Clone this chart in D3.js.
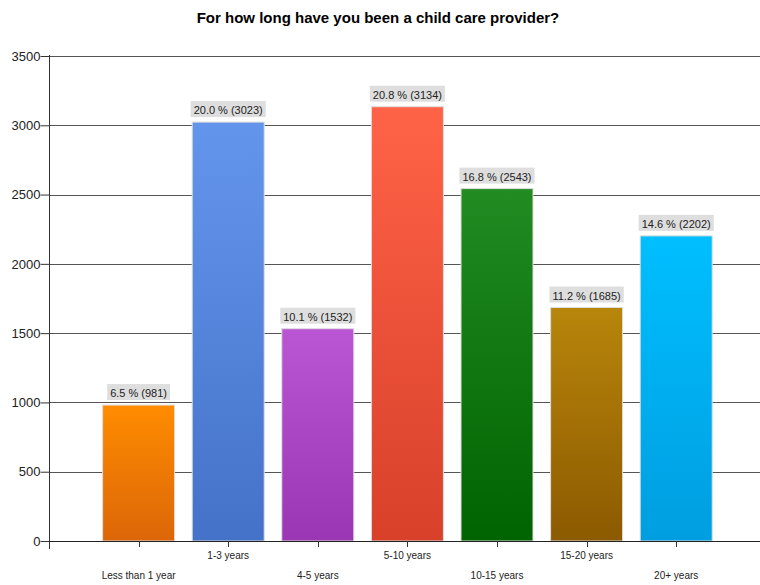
<!DOCTYPE html>
<html>
<head>
<meta charset="utf-8">
<script src="https://cdn.jsdelivr.net/npm/d3@7"></script>
<style>
  body { margin: 0; background: #fff; }
  text { font-family: "Liberation Sans", Arial, sans-serif; }
</style>
</head>
<body>
<svg id="svg" width="760" height="585"></svg>
<script>
const categories = ["Less than 1 year", "1-3 years", "4-5 years", "5-10 years", "10-15 years", "15-20 years", "20+ years"];
const counts = [981, 3023, 1532, 3134, 2543, 1685, 2202];
const percents = [6.5, 20.0, 10.1, 20.8, 16.8, 11.2, 14.6];
const yTicks = [0, 500, 1000, 1500, 2000, 2500, 3000, 3500];
const colorsTop = ["#ff8c00", "#6495ed", "#ba55d3", "#ff6347", "#228b22", "#b8860b", "#00bfff"];
const colorsBottom = ["#dc6608", "#4472c8", "#9a35b4", "#d8402a", "#006400", "#8c5a00", "#009ee0"];

const svg = d3.select("#svg");
const plotLeft = 49, plotTop = 56, plotBottom = 541, step = 89.6;

const x = d3.scaleLinear().domain([0, 8]).range([plotLeft, plotLeft + step * 8]);
const y = d3.scaleLinear().domain([0, 3500]).range([plotBottom, plotTop]);

svg.append("text").attr("x", 378).attr("y", 23).attr("text-anchor", "middle")
  .style("font-size", "15px").style("font-weight", "bold").text("For how long have you been a child care provider?");

// gradients
const defs = svg.append("defs");
categories.forEach((c, i) => {
  const g = defs.append("linearGradient").attr("id", "g" + i).attr("x1", 0).attr("y1", 0).attr("x2", 0).attr("y2", 1);
  g.append("stop").attr("offset", "0%").attr("stop-color", colorsTop[i]);
  g.append("stop").attr("offset", "100%").attr("stop-color", colorsBottom[i]);
});

// grid
svg.append("g").selectAll("line").data(yTicks.filter(d => d > 0)).join("line")
  .attr("x1", plotLeft).attr("x2", 760).attr("y1", d => Math.round(y(d)) + 0.5).attr("y2", d => Math.round(y(d)) + 0.5)
  .attr("stroke", "#555").attr("stroke-width", 1);

// y axis
const ya = svg.append("g").attr("transform", "translate(" + (plotLeft + 0.5) + ",0)")
  .call(d3.axisLeft(y).tickValues(yTicks).tickSize(9).tickSizeOuter(0).tickFormat(d3.format("d")));
ya.select(".domain").attr("stroke", "#333").attr("d", "M0," + (plotTop - 1) + "V" + (plotBottom + 8));
ya.selectAll(".tick line").attr("stroke", "#333");
ya.selectAll(".tick text").style("font-size", "13px").attr("fill", "#222").attr("x", -9);

// bars
const bw = 72;
svg.append("g").selectAll("rect").data(counts).join("rect")
  .attr("x", (d, i) => x(i + 1) - bw / 2).attr("width", bw)
  .attr("y", d => y(d)).attr("height", d => y(0) - y(d))
  .attr("fill", (d, i) => "url(#g" + i + ")")
  .attr("stroke", "#ddd").attr("stroke-width", 1);

// x axis
svg.append("line").attr("x1", plotLeft).attr("x2", 760).attr("y1", plotBottom + 0.5).attr("y2", plotBottom + 0.5).attr("stroke", "#222");
svg.append("g").selectAll("line").data(categories).join("line")
  .attr("x1", (d, i) => Math.round(x(i + 1)) + 0.5).attr("x2", (d, i) => Math.round(x(i + 1)) + 0.5)
  .attr("y1", plotBottom).attr("y2", plotBottom + 6).attr("stroke", "#333");
svg.append("g").selectAll("text").data(categories).join("text")
  .attr("x", (d, i) => x(i + 1)).attr("y", (d, i) => i % 2 ? 559 : 579)
  .attr("text-anchor", "middle").style("font-size", "10px").attr("fill", "#222").text(d => d);

// value labels
const lab = svg.append("g").selectAll("g").data(counts).join("g");
lab.each(function(d, i) {
  const g = d3.select(this);
  const t = g.append("text").attr("x", x(i + 1)).attr("y", y(d) - 8)
    .attr("text-anchor", "middle").style("font-size", "11px").attr("fill", "#222")
    .text(percents[i].toFixed(1) + " % (" + d + ")");
  const b = t.node().getBBox();
  g.insert("rect", "text").attr("x", b.x - 3).attr("y", y(d) - 21).attr("width", b.width + 6).attr("height", 16).attr("fill", "#dedede");
});
</script>
</body>
</html>
